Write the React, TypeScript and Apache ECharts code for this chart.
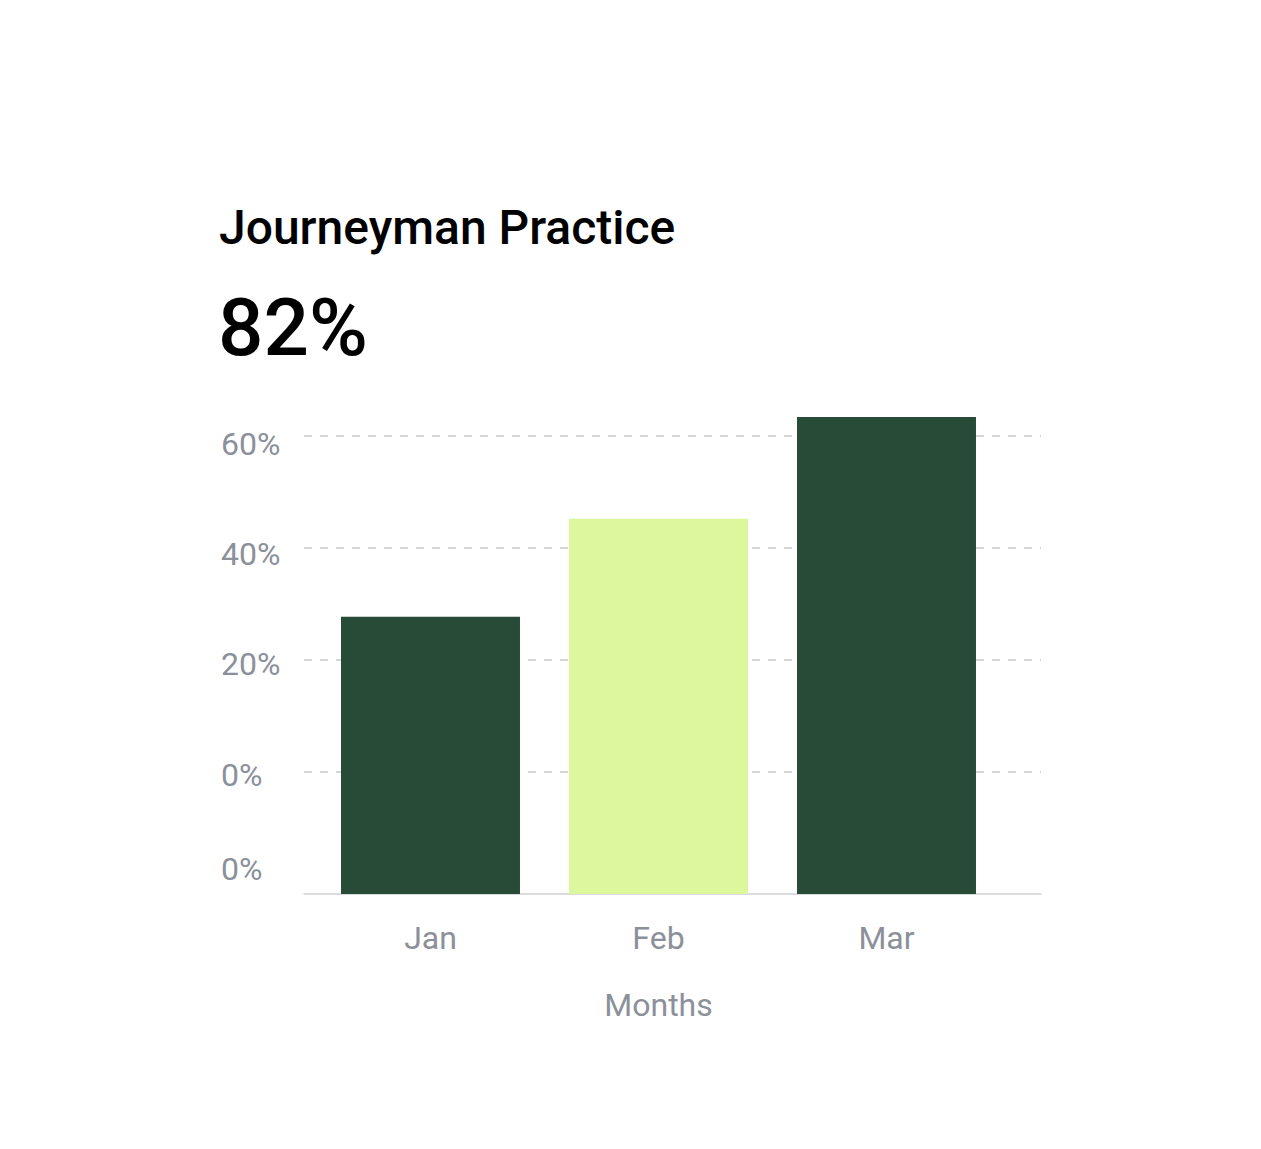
import { useEffect, useRef } from "react";
import * as echarts from "echarts";

const months = ["Jan", "Feb", "Mar"];
const practice = [27.7, 45.2, 63.4];
const barColors = ["#284b38", "#dcf79c", "#284b38"];
const gridTicks = [0, 20, 40, 60];
const headline = "Journeyman Practice";
const headlineValue = "82%";

const Y_MIN = -21.8;
const Y_MAX = 66;

const font = "Roboto, 'Noto Sans', sans-serif";
const muted = "#8b909a";

// how far each tick label sits below its dashed line
const labelDrop: Record<number, number> = { 0: 5.4, 20: 8.8, 40: 12.8, 60: 16.2 };

const App = () => {
    const chartRef = useRef<HTMLDivElement>(null);

    useEffect(() => {
        document.body.style.margin = "0";
        if (!chartRef.current) return;

        const chart = echarts.init(chartRef.current, null, { renderer: "svg" });

        const label = (v: number) => `${Math.max(0, Math.round(v))}%`;

        const rich: Record<string, object> = {};
        gridTicks.forEach((t) => {
            rich["t" + t] = { fontSize: 32, color: muted, fontFamily: font, lineHeight: labelDrop[t] };
        });

        chart.setOption({
            animation: false,
            backgroundColor: "#ffffff",
            textStyle: { fontFamily: font },
            title: [
                {
                    text: headline,
                    left: 219,
                    top: 203,
                    padding: 0,
                    textStyle: { fontSize: 48, fontWeight: 500, color: "#000", fontFamily: font },
                },
                {
                    text: headlineValue,
                    left: 218,
                    top: 288,
                    padding: 0,
                    textStyle: { fontSize: 80, fontWeight: 500, color: "#000", fontFamily: font },
                },
            ],
            grid: [
                { left: 304, right: 220, top: 402.32, bottom: 255 },
                { left: 316.5, right: 260.5, top: 402.32, bottom: 255 },
            ],
            xAxis: [
                {
                    type: "value",
                    gridIndex: 0,
                    axisLine: { show: true, onZero: false, lineStyle: { color: "#cfd1d6", width: 1.5 } },
                    axisTick: { show: false },
                    axisLabel: { show: false },
                    splitLine: { show: false },
                },
                {
                    type: "category",
                    gridIndex: 1,
                    data: months,
                    name: "Months",
                    nameLocation: "middle",
                    nameGap: 95,
                    nameTextStyle: { fontSize: 32, color: muted, fontFamily: font },
                    axisLine: { show: false, onZero: false },
                    axisTick: { show: false },
                    axisLabel: { fontSize: 32, color: muted, margin: 28, fontFamily: font },
                },
            ],
            yAxis: [
                {
                    type: "value",
                    gridIndex: 0,
                    min: Y_MIN,
                    max: Y_MAX,
                    axisLine: { show: false },
                    axisTick: { show: false, customValues: gridTicks },
                    axisLabel: {
                        customValues: gridTicks,
                        formatter: (v: number) => `{t${Math.round(v)}|${label(v)}}`,
                        rich,
                        fontSize: 32,
                        color: muted,
                        align: "left",
                        verticalAlign: "top",
                        margin: 83,
                        fontFamily: font,
                    },
                    splitLine: {
                        show: true,
                        lineStyle: { color: "#c6c9cf", type: [8, 8], width: 1.5 },
                    },
                },
                {
                    type: "value",
                    gridIndex: 1,
                    min: Y_MIN,
                    max: Y_MAX,
                    startValue: Y_MIN,
                    axisLine: { show: false },
                    axisTick: { show: false },
                    splitLine: { show: false },
                    axisLabel: {
                        customValues: [Y_MIN],
                        formatter: label,
                        fontSize: 32,
                        color: muted,
                        align: "left",
                        verticalAlign: "bottom",
                        lineHeight: 51,
                        margin: 95.5,
                        fontFamily: font,
                    },
                },
            ],
            series: [
                {
                    name: headline,
                    type: "bar",
                    xAxisIndex: 1,
                    yAxisIndex: 1,
                    barCategoryGap: "21.5%",
                    data: practice.map((v, i) => ({
                        value: v,
                        itemStyle: { color: barColors[i] },
                    })),
                },
            ],
        });

        const handleResize = () => chart.resize();
        window.addEventListener("resize", handleResize);

        return () => {
            chart.dispose();
            window.removeEventListener("resize", handleResize);
        };
    }, []);

    return (
        <div
            ref={chartRef}
            style={{ width: "1261px", height: "1149px" }}
        />
    );
};

export default App;
